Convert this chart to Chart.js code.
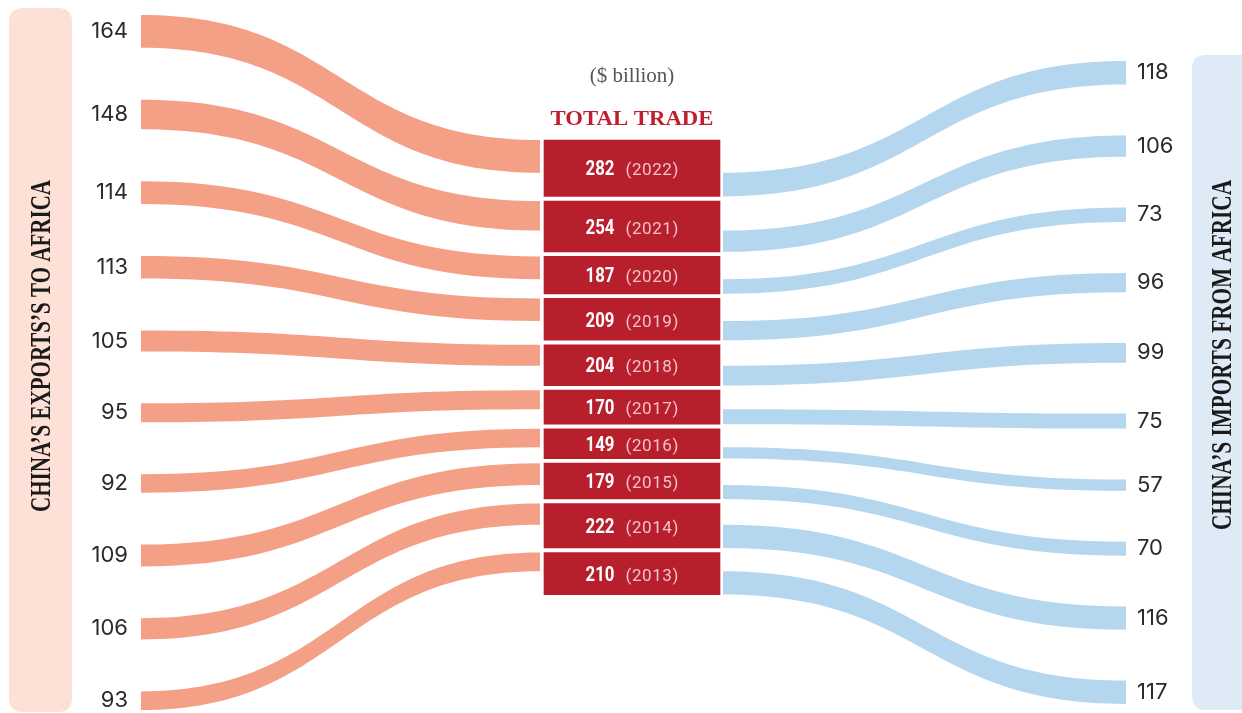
<!DOCTYPE html>
<html>
<head>
<meta charset="utf-8">
<script src="https://cdn.jsdelivr.net/npm/chart.js@4/dist/chart.umd.min.js"></script>
<style>
  html, body { margin: 0; padding: 0; background: #ffffff; }
  #wrap { width: 1242px; height: 713px; position: relative; }
</style>
</head>
<body>
<div id="wrap"><canvas id="c" width="1242" height="713"></canvas></div>
<script>
// ---------- DATA ($ billion) ----------
const years       = ['2022','2021','2020','2019','2018','2017','2016','2015','2014','2013'];
const exportsBn   = [164, 148, 114, 113, 105, 95, 92, 109, 106, 93];   // China's exports to Africa
const importsBn   = [118, 106, 73, 96, 99, 75, 57, 70, 116, 117];      // China's imports from Africa
const totalTrade  = [282, 254, 187, 209, 204, 170, 149, 179, 222, 210];

const titleUnit   = '($ billion)';
const titleCenter = 'TOTAL TRADE';
const leftTitle   = 'CHINA\u2019S EXPORTS\u2019S TO AFRICA';
const rightTitle  = 'CHINA\u2019S IMPORTS FROM AFRICA';

// ---------- LAYOUT (scale units, not data) ----------
const LAYOUT = {
  yMax: 3475,
  leftFrom: 0,   leftTo: 3475,
  rightFrom: 230, rightTo: 3445,
  boxFrom: 625,  boxGap: 23,
  xLeft: 0, xLeftEnd: 399, xBox: 491, xRightStart: 582, xRight: 985,
  boxWidth: 176
};
const COLORS = {
  exp: '#f4a086', imp: '#b4d6ef', box: '#b81f2d',
  leftPanel: '#fde0d6', rightPanel: '#deebf6',
  num: '#2b2b2b', red: '#be1e2d', unit: '#555555', year: '#f1c3c8'
};

function stackNodes(values, from, to) {
  const sum = values.reduce((a, b) => a + b, 0);
  const gap = (to - from - sum) / (values.length - 1);
  const out = []; let p = from;
  values.forEach(v => { out.push([p, p + v]); p += v + gap; });
  return out;
}
const leftNodes  = stackNodes(exportsBn, LAYOUT.leftFrom, LAYOUT.leftTo);
const rightNodes = stackNodes(importsBn, LAYOUT.rightFrom, LAYOUT.rightTo);
const boxNodes = (() => {
  const out = []; let p = LAYOUT.boxFrom;
  totalTrade.forEach(t => { out.push([p, p + t]); p += t + LAYOUT.boxGap; });
  return out;
})();

function band(ctx, x0, a0, b0, x1, a1, b1) {
  const xm = (x0 + x1) / 2;
  ctx.beginPath();
  ctx.moveTo(x0, a0);
  ctx.bezierCurveTo(xm, a0, xm, a1, x1, a1);
  ctx.lineTo(x1, b1);
  ctx.bezierCurveTo(xm, b1, xm, b0, x0, b0);
  ctx.closePath();
  ctx.fill();
}

function roundRect(ctx, x, y, w, h, r) {
  ctx.beginPath();
  ctx.moveTo(x + r, y);
  ctx.lineTo(x + w - r, y); ctx.quadraticCurveTo(x + w, y, x + w, y + r);
  ctx.lineTo(x + w, y + h - r); ctx.quadraticCurveTo(x + w, y + h, x + w - r, y + h);
  ctx.lineTo(x + r, y + h); ctx.quadraticCurveTo(x, y + h, x, y + h - r);
  ctx.lineTo(x, y + r); ctx.quadraticCurveTo(x, y, x + r, y);
  ctx.closePath();
}

function verticalText(ctx, text, cx, cy, len, font, color) {
  ctx.save();
  ctx.font = font;
  ctx.fillStyle = color;
  ctx.textAlign = 'center';
  ctx.textBaseline = 'middle';
  const w = ctx.measureText(text).width;
  ctx.translate(cx, cy);
  ctx.rotate(-Math.PI / 2);
  ctx.scale(len / w, 1);
  ctx.fillText(text, 0, 0);
  ctx.restore();
}

function scaledText(ctx, text, x, y, sx) {
  ctx.save();
  ctx.translate(x, y);
  ctx.scale(sx, 1);
  ctx.fillText(text, 0, 0);
  ctx.restore();
}

const sankeyPlugin = {
  id: 'sankeyFlows',
  beforeDraw(chart) {
    const ctx = chart.ctx;
    ctx.save();
    ctx.fillStyle = '#ffffff';
    ctx.fillRect(0, 0, chart.width, chart.height);
    ctx.fillStyle = COLORS.leftPanel;
    roundRect(ctx, 9, 8, 63, 704, 14); ctx.fill();
    ctx.fillStyle = COLORS.rightPanel;
    roundRect(ctx, 1192, 55, 70, 655, 14); ctx.fill();
    ctx.restore();
    verticalText(ctx, leftTitle, 42, 346, 332, 'bold 30px "Liberation Serif", "DejaVu Serif", serif', '#1a1a1a');
    verticalText(ctx, rightTitle, 1223, 355, 350, 'bold 30px "Liberation Serif", "DejaVu Serif", serif', '#1a1a1a');
  },
  beforeDatasetsDraw(chart) {
    const ctx = chart.ctx, xs = chart.scales.x, ys = chart.scales.y;
    ctx.save();
    const xL = xs.getPixelForValue(LAYOUT.xLeft), xLE = xs.getPixelForValue(LAYOUT.xLeftEnd);
    const xRS = xs.getPixelForValue(LAYOUT.xRightStart), xR = xs.getPixelForValue(LAYOUT.xRight);
    years.forEach((y, i) => {
      const box = boxNodes[i];
      ctx.fillStyle = COLORS.exp;
      band(ctx,
        xL, ys.getPixelForValue(leftNodes[i][0]), ys.getPixelForValue(leftNodes[i][1]),
        xLE, ys.getPixelForValue(box[0]), ys.getPixelForValue(box[0] + exportsBn[i]));
      ctx.fillStyle = COLORS.imp;
      band(ctx,
        xRS, ys.getPixelForValue(box[0] + exportsBn[i]), ys.getPixelForValue(box[1]),
        xR, ys.getPixelForValue(rightNodes[i][0]), ys.getPixelForValue(rightNodes[i][1]));
    });
    ctx.restore();
  },
  afterDatasetsDraw(chart) {
    const ctx = chart.ctx, xs = chart.scales.x, ys = chart.scales.y;
    ctx.save();
    // side value labels
    ctx.font = '22px Inter, Roboto, sans-serif';
    ctx.fillStyle = COLORS.num;
    ctx.textBaseline = 'middle';
    ctx.textAlign = 'right';
    const xL = xs.getPixelForValue(LAYOUT.xLeft), xR = xs.getPixelForValue(LAYOUT.xRight);
    exportsBn.forEach((v, i) => {
      const cy = ys.getPixelForValue((leftNodes[i][0] + leftNodes[i][1]) / 2);
      ctx.fillText(String(v), xL - 13, cy);
    });
    ctx.textAlign = 'left';
    importsBn.forEach((v, i) => {
      const cy = ys.getPixelForValue((rightNodes[i][0] + rightNodes[i][1]) / 2);
      ctx.fillText(String(v), xR + 11, cy);
    });
    // centre titles
    const cx = xs.getPixelForValue(LAYOUT.xBox);
    ctx.textAlign = 'center';
    ctx.font = '21px "Liberation Serif", "DejaVu Serif", serif';
    ctx.fillStyle = COLORS.unit;
    ctx.fillText(titleUnit, cx, 76);
    ctx.font = 'bold 22px "Liberation Serif", "DejaVu Serif", serif';
    ctx.fillStyle = COLORS.red;
    const tw = ctx.measureText(titleCenter).width;
    scaledText(ctx, titleCenter, cx, 119, 163 / tw);
    // box labels
    const meta = chart.getDatasetMeta(0);
    const numFont = 'bold 21px Roboto, "DejaVu Sans", sans-serif';
    const yearFont = '17px Roboto, Inter, sans-serif';
    const numSx = 0.8;
    meta.data.forEach((bar, i) => {
      const cyy = (bar.y + bar.base) / 2;
      ctx.font = numFont;
      const numText = String(totalTrade[i]);
      const w1 = ctx.measureText(numText).width * numSx;
      ctx.font = yearFont;
      const yearText = '(' + years[i] + ')';
      const sp = 0.6;
      const w2 = ctx.measureText(yearText).width + (yearText.length - 1) * sp;
      const gap = 11;
      const start = bar.x - (w1 + gap + w2) / 2;
      ctx.textAlign = 'left';
      ctx.fillStyle = '#ffffff';
      ctx.font = numFont;
      scaledText(ctx, numText, start, cyy + 2, numSx);
      ctx.fillStyle = COLORS.year;
      ctx.font = yearFont;
      let xx = start + w1 + gap;
      for (const ch of yearText) {
        ctx.fillText(ch, xx, cyy + 3);
        xx += ctx.measureText(ch).width + sp;
      }
    });
    ctx.restore();
  }
};

new Chart(document.getElementById('c'), {
  type: 'bar',
  data: {
    datasets: [{
      label: 'Total trade',
      data: years.map((y, i) => ({ x: LAYOUT.xBox, y: boxNodes[i] })),
      backgroundColor: COLORS.box,
      borderWidth: 0,
      barThickness: LAYOUT.boxWidth,
      borderSkipped: false
    }]
  },
  options: {
    responsive: false,
    animation: false,
    devicePixelRatio: 1,
    layout: { padding: { left: 141, right: 116, top: 15, bottom: 3 } },
    plugins: { legend: { display: false }, tooltip: { enabled: false } },
    scales: {
      x: { type: 'linear', min: 0, max: 985, offset: false, display: false },
      y: { type: 'linear', min: 0, max: LAYOUT.yMax, reverse: true, display: false }
    }
  },
  plugins: [sankeyPlugin]
});
</script>
</body>
</html>
